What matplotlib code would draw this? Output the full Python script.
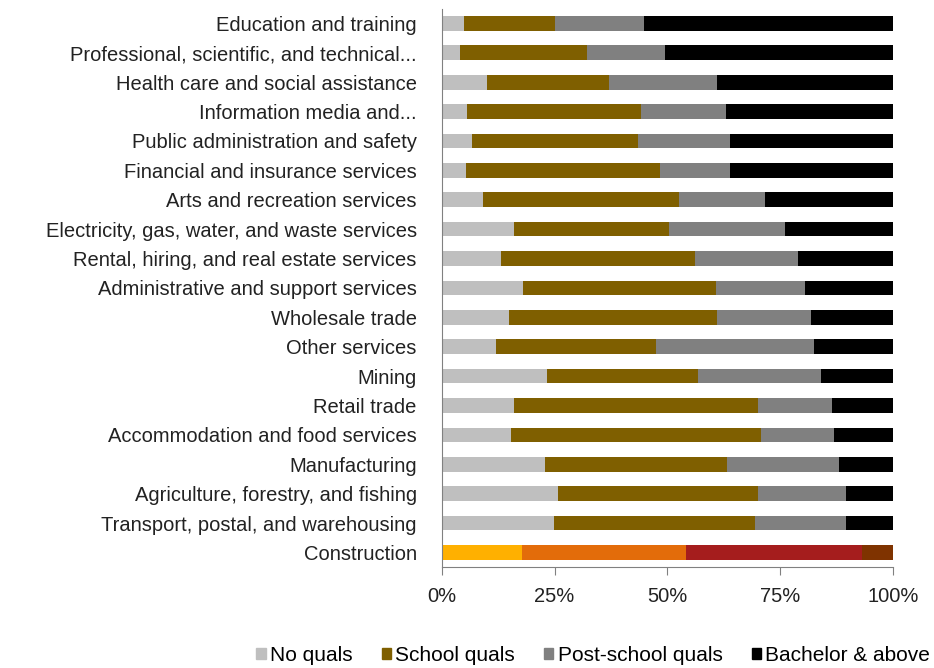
import numpy as np
import matplotlib.pyplot as plt
from matplotlib.patches import Patch

plt.rcParams['font.family'] = ['Liberation Sans', 'DejaVu Sans']

industries = [
    "Education and training",
    "Professional, scientific, and technical...",
    "Health care and social assistance",
    "Information media and...",
    "Public administration and safety",
    "Financial and insurance services",
    "Arts and recreation services",
    "Electricity, gas, water, and waste services",
    "Rental, hiring, and real estate services",
    "Administrative and support services",
    "Wholesale trade",
    "Other services",
    "Mining",
    "Retail trade",
    "Accommodation and food services",
    "Manufacturing",
    "Agriculture, forestry, and fishing",
    "Transport, postal, and warehousing",
    "Construction",
]

# share of workers (%) by highest qualification
no_quals = [5.0, 4.0, 10.1, 5.6, 6.6, 5.3, 9.2, 15.9, 13.1, 18.0,
            15.0, 12.1, 23.4, 15.9, 15.3, 22.8, 25.7, 24.8, 17.7]
school_quals = [20.1, 28.3, 27.0, 38.6, 37.0, 43.1, 43.4, 34.4, 43.1, 42.8,
                46.0, 35.4, 33.4, 54.2, 55.5, 40.5, 44.4, 44.7, 36.5]
post_school = [19.7, 17.1, 23.9, 18.8, 20.3, 15.5, 19.1, 25.7, 22.7, 19.7,
               20.8, 35.0, 27.2, 16.5, 16.1, 24.7, 19.5, 20.1, 39.0]
bachelor = [55.2, 50.6, 39.0, 37.0, 36.1, 36.1, 28.3, 24.0, 21.1, 19.5,
            18.2, 17.5, 16.0, 13.4, 13.1, 12.0, 10.4, 10.4, 6.8]

series_names = ["No quals", "School quals", "Post-school quals", "Bachelor & above"]
grey_colors = ["#bfbfbf", "#7f5f00", "#808080", "#000000"]
highlight_colors = ["#ffb000", "#e36c0a", "#a51d1d", "#7f3300"]
highlight = "Construction"

fig = plt.figure(figsize=(9.34, 6.68), dpi=100)
ax = fig.add_axes([0.473, 0.151, 0.483, 0.836])

y = np.arange(len(industries))
left = np.zeros(len(industries))
for vals, col, hcol in zip([no_quals, school_quals, post_school, bachelor],
                           grey_colors, highlight_colors):
    vals = np.array(vals)
    colors = [hcol if name == highlight else col for name in industries]
    ax.barh(y, vals, left=left, height=0.5, color=colors)
    left += vals

ax.set_xlim(0, 100)
ax.set_ylim(len(industries) - 0.5, -0.5)
ax.set_yticks(y)
ax.set_yticklabels(industries, fontsize=14.5, color="#222222")
ax.tick_params(axis='y', length=0, pad=18)
ax.set_xticks([0, 25, 50, 75, 100])
ax.set_xticklabels(["0%", "25%", "50%", "75%", "100%"], fontsize=14.5, color="#222222")
ax.tick_params(axis='x', length=6, color="#808080", pad=8)

for side in ['top', 'right']:
    ax.spines[side].set_visible(False)
for side in ['left', 'bottom']:
    ax.spines[side].set_color("#808080")

handles = [Patch(color=c) for c in grey_colors]
fig.legend(handles, series_names, loc='lower center', bbox_to_anchor=(0.635, -0.024),
           ncol=4, frameon=False, fontsize=15, handlelength=0.45, handleheight=0.45,
           handletextpad=0.2, columnspacing=1.4)

fig.savefig("out.png", dpi=100)
